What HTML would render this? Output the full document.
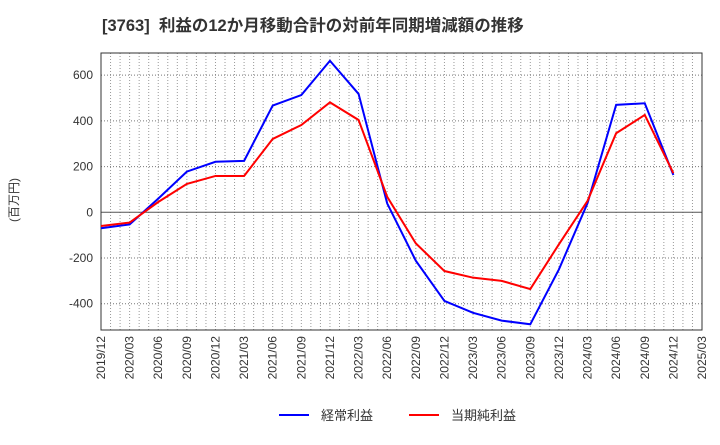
<!DOCTYPE html>
<html><head><meta charset="utf-8"><style>
body{margin:0;background:#fff;font-family:"Liberation Sans","Noto Sans CJK JP",sans-serif;}
</style></head><body>
<svg width="720" height="440" xmlns="http://www.w3.org/2000/svg" style="font-family:'Liberation Sans','Noto Sans CJK JP',sans-serif">
<text x="102" y="31" font-size="16.5" font-weight="bold" fill="#333">[3763]&#160;&#160;利益の12か月移動合計の対前年同期増減額の推移</text>
<text transform="translate(18,200) rotate(-90)" font-size="12" fill="#333" text-anchor="middle">(百万円)</text>
<g id="grid"></g><g id="axes"></g><g id="series"></g>
<g>
<line x1="279" y1="415" x2="309" y2="415" stroke="#0000ff" stroke-width="2"/>
<text x="321" y="420" font-size="13" fill="#333">経常利益</text>
<line x1="409" y1="415" x2="439" y2="415" stroke="#ff0000" stroke-width="2"/>
<text x="451" y="420" font-size="13" fill="#333">当期純利益</text>
</g>
</svg>
<script>
const categories=["2019/12","2020/03","2020/06","2020/09","2020/12","2021/03","2021/06","2021/09","2021/12","2022/03","2022/06","2022/09","2022/12","2023/03","2023/06","2023/09","2023/12","2024/03","2024/06","2024/09","2024/12"];
const xTickLabels=["2019/12","2020/03","2020/06","2020/09","2020/12","2021/03","2021/06","2021/09","2021/12","2022/03","2022/06","2022/09","2022/12","2023/03","2023/06","2023/09","2023/12","2024/03","2024/06","2024/09","2024/12","2025/03"];
const ordinaryProfit=[-70,-53,60,178,221,225,467,513,663,518,39,-212,-388,-440,-474,-490,-250,40,470,477,163];
const netProfit=[-60,-45,45,124,159,159,321,382,481,404,68,-136,-257,-286,-300,-336,-140,50,346,426,171];
const yTicks=[-400,-200,0,200,400,600];
const L=101,R=702,T=53,B=330,YMIN=-515,YMAX=697,NQ=21;
const NS="http://www.w3.org/2000/svg";
const xs=i=>L+(R-L)*i/NQ;
const ys=v=>B-(v-YMIN)/(YMAX-YMIN)*(B-T);
function mk(t,a,p){const e=document.createElementNS(NS,t);for(const k in a)e.setAttribute(k,a[k]);p.appendChild(e);return e;}
const grid=document.getElementById('grid'),axes=document.getElementById('axes'),ser=document.getElementById('series');
for(let m=1;m<NQ*3;m++){const x=L+(R-L)*m/(NQ*3);
const g=mk('line',{x1:x,x2:x,y1:T,y2:B,stroke:'#999','stroke-dasharray':'1,2','stroke-width':1},grid);

}
yTicks.forEach(v=>{const y=ys(v);
const g=mk('line',{x1:L,x2:R,y1:y,y2:y,stroke:v===0?'#555':'#777','stroke-dasharray':v===0?'':'1,2','stroke-width':1},grid);


const t=mk('text',{x:L-8,y:y+4,'font-size':12,fill:'#333','text-anchor':'end'},axes);t.textContent=v;

});
xTickLabels.forEach((s,i)=>{const x=xs(i);
const t=mk('text',{transform:`translate(${x+4},${B+6}) rotate(-90)`,'font-size':12,fill:'#333','text-anchor':'end'},axes);t.textContent=s;

});
const f=mk('rect',{x:L,y:T,width:R-L,height:B-T,fill:'none',stroke:'#333','stroke-width':1},axes);


function line(arr,c,n){const p=mk('polyline',{points:arr.map((v,i)=>xs(i)+','+ys(v)).join(' '),fill:'none',stroke:c,'stroke-width':2},ser);

}
line(ordinaryProfit,'#0000ff','ordinary-profit-line');
line(netProfit,'#ff0000','net-profit-line');
</script>
</body></html>
